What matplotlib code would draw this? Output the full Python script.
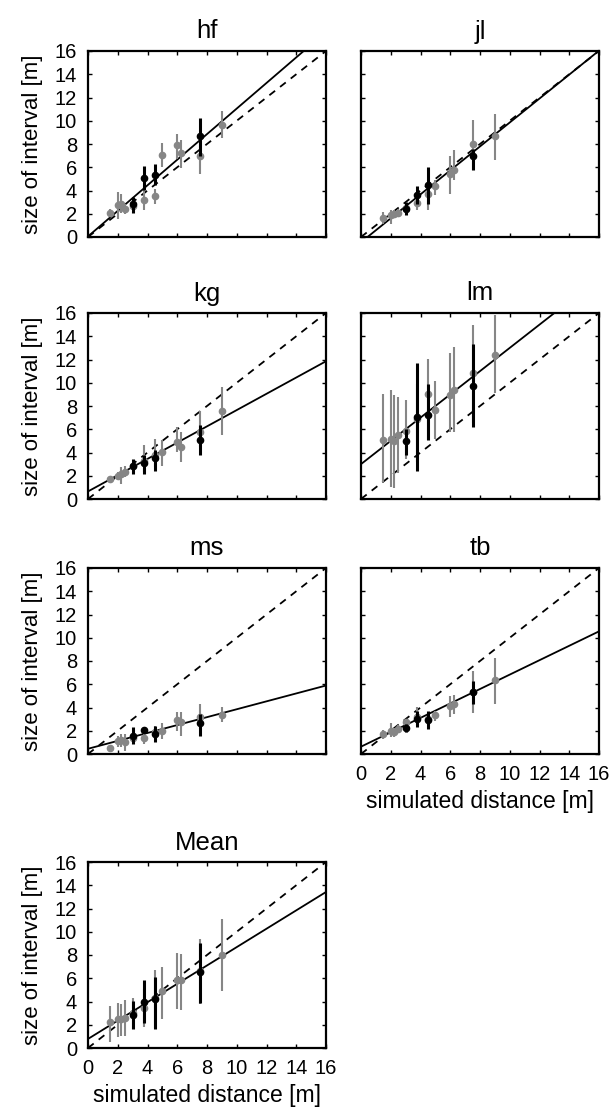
import matplotlib
matplotlib.use("Agg")
import matplotlib.pyplot as plt
import numpy as np

plt.rcParams["font.family"] = ["Liberation Sans", "DejaVu Sans"]

# distances for the two groups of points
GRAY_X = [1.5, 2.0, 2.25, 2.5, 3.0, 3.75, 4.5, 5.0, 6.0, 6.25, 7.5, 9.0]
BLACK_X = [3.0, 3.75, 4.5, 7.5]

PANELS = ["hf", "jl", "kg", "lm", "ms", "tb", "Mean"]

# gray series: value, upper, lower
HF_GRAY = [2.06, 2.72, 2.80, 2.38, 2.70, 3.20, 3.50, 7.08, 7.88, 7.22, 6.96, 9.66]
HF_GRAY_HI = [2.44, 3.87, 3.67, 2.80, 3.10, 4.30, 4.16, 8.08, 8.88, 8.37, 8.65, 10.83]
HF_GRAY_LO = [1.72, 1.58, 2.10, 2.00, 2.30, 2.35, 2.87, 6.02, 6.73, 5.96, 5.39, 8.54]
HF_BLACK = [2.80, 5.07, 5.36, 8.65]
HF_BLACK_HI = [3.44, 6.07, 6.25, 10.23]
HF_BLACK_LO = [2.06, 4.01, 4.44, 7.00]

JL_GRAY = [1.63, 1.92, 2.00, 2.06, 2.50, 2.95, 3.72, 4.36, 5.39, 5.73, 8.02, 8.65]
JL_GRAY_HI = [2.15, 2.29, 2.30, 2.40, 2.90, 3.58, 4.58, 4.93, 7.00, 7.51, 10.09, 10.60]
JL_GRAY_LO = [1.15, 1.15, 1.60, 1.70, 2.10, 2.29, 2.29, 3.58, 3.72, 4.87, 5.73, 6.59]
JL_BLACK = [2.43, 3.64, 4.44, 6.93]
JL_BLACK_HI = [3.01, 4.36, 6.02, 7.59]
JL_BLACK_LO = [1.86, 2.87, 2.87, 5.73]

KG_GRAY = [1.73, 1.96, 2.13, 2.36, 2.80, 3.31, 3.75, 4.03, 4.90, 4.47, 5.76, 7.60]
KG_GRAY_HI = [2.02, 2.30, 2.74, 2.80, 3.20, 4.61, 5.19, 5.04, 6.20, 5.76, 7.55, 9.65]
KG_GRAY_LO = [1.38, 1.60, 1.30, 1.90, 2.40, 2.31, 2.74, 2.88, 4.03, 3.17, 4.50, 5.50]
KG_BLACK = [2.80, 3.08, 3.52, 5.10]
KG_BLACK_HI = [3.46, 3.75, 4.18, 6.34]
KG_BLACK_LO = [2.17, 2.16, 2.45, 3.75]

LM_GRAY = [5.10, 5.19, 4.96, 5.48, 5.82, 6.90, 9.02, 7.69, 8.93, 9.37, 10.80, 12.39]
LM_GRAY_HI = [9.00, 9.34, 8.93, 8.76, 8.50, 9.90, 12.05, 10.17, 12.54, 13.08, 15.00, 15.85]
LM_GRAY_LO = [1.44, 1.00, 0.95, 2.23, 3.46, 3.20, 5.10, 5.19, 5.76, 5.76, 6.50, 9.08]
LM_BLACK = [4.96, 7.06, 7.20, 9.74]
LM_BLACK_HI = [6.05, 11.67, 9.85, 13.31]
LM_BLACK_LO = [3.75, 2.45, 5.04, 6.20]

MS_GRAY = [0.52, 1.09, 1.20, 1.00, 1.40, 1.35, 1.90, 2.00, 2.93, 2.73, 3.15, 3.36]
MS_GRAY_HI = [0.70, 1.58, 1.72, 1.72, 1.80, 1.87, 2.40, 2.70, 3.65, 3.59, 4.31, 4.02]
MS_GRAY_LO = [0.35, 0.57, 0.57, 0.29, 1.00, 0.90, 1.30, 1.29, 2.01, 1.58, 2.16, 2.73]
MS_BLACK = [1.52, 2.07, 1.72, 2.67]
MS_BLACK_HI = [2.30, 2.30, 2.44, 3.45]
MS_BLACK_LO = [0.86, 1.84, 1.01, 1.58]

TB_GRAY = [1.72, 2.00, 1.86, 2.15, 2.72, 3.15, 3.00, 3.38, 4.15, 4.30, 5.30, 6.36]
TB_GRAY_HI = [2.09, 2.63, 2.20, 2.50, 3.00, 4.01, 3.50, 3.67, 5.01, 5.10, 7.16, 8.25]
TB_GRAY_LO = [1.29, 1.49, 1.50, 1.80, 2.40, 2.50, 2.50, 2.87, 3.15, 3.44, 3.50, 4.30]
TB_BLACK = [2.23, 3.00, 2.92, 5.30]
TB_BLACK_HI = [2.58, 3.72, 3.67, 6.30]
TB_BLACK_LO = [1.86, 2.29, 2.15, 4.30]

MEAN_GRAY = [2.21, 2.50, 2.50, 2.59, 3.00, 3.45, 4.30, 4.91, 5.83, 5.89, 6.60, 7.99]
MEAN_GRAY_HI = [3.65, 3.88, 3.82, 4.11, 4.30, 5.06, 6.70, 6.98, 8.19, 8.10, 9.34, 11.06]
MEAN_GRAY_LO = [0.49, 0.95, 1.01, 1.01, 1.60, 1.81, 1.70, 2.50, 3.39, 3.25, 3.80, 4.88]
MEAN_BLACK = [2.82, 3.99, 4.25, 6.52]
MEAN_BLACK_HI = [4.02, 5.83, 6.12, 9.05]
MEAN_BLACK_LO = [1.64, 2.16, 1.64, 3.88]

# fitted line: slope, intercept
FIT_SLOPE = [1.10, 1.03, 0.70, 1.00, 0.34, 0.62, 0.79]
FIT_INTERCEPT = [0.05, -0.45, 0.65, 3.00, 0.45, 0.63, 0.78]

TICKS = list(range(0, 17, 2))

GRAY = [
    (HF_GRAY, HF_GRAY_HI, HF_GRAY_LO),
    (JL_GRAY, JL_GRAY_HI, JL_GRAY_LO),
    (KG_GRAY, KG_GRAY_HI, KG_GRAY_LO),
    (LM_GRAY, LM_GRAY_HI, LM_GRAY_LO),
    (MS_GRAY, MS_GRAY_HI, MS_GRAY_LO),
    (TB_GRAY, TB_GRAY_HI, TB_GRAY_LO),
    (MEAN_GRAY, MEAN_GRAY_HI, MEAN_GRAY_LO),
]
BLACK = [
    (HF_BLACK, HF_BLACK_HI, HF_BLACK_LO),
    (JL_BLACK, JL_BLACK_HI, JL_BLACK_LO),
    (KG_BLACK, KG_BLACK_HI, KG_BLACK_LO),
    (LM_BLACK, LM_BLACK_HI, LM_BLACK_LO),
    (MS_BLACK, MS_BLACK_HI, MS_BLACK_LO),
    (TB_BLACK, TB_BLACK_HI, TB_BLACK_LO),
    (MEAN_BLACK, MEAN_BLACK_HI, MEAN_BLACK_LO),
]

W, H = 610, 1110
fig = plt.figure(figsize=(W / 100, H / 100), dpi=100)

# axes boxes in pixels: left, top, width, height
col_left = [88, 361]
row_top = [51, 313, 568, 862]
ax_w, ax_h = 238, 186

def errs(y, hi, lo):
    y = np.asarray(y)
    return y, np.vstack([y - np.asarray(lo), np.asarray(hi) - y])

for i, name in enumerate(PANELS):
    r, c = divmod(i, 2)
    left, top = col_left[c], row_top[r]
    ax = fig.add_axes([left / W, 1 - (top + ax_h) / H, ax_w / W, ax_h / H])

    xs = np.array([0, 16])
    ax.plot(xs, xs, ls=(0, (4, 3.5)), color="black", lw=1.3, zorder=2)
    ax.plot(xs, FIT_SLOPE[i] * xs + FIT_INTERCEPT[i], color="black", lw=1.3, zorder=2)

    y, e = errs(*GRAY[i])
    ax.errorbar(GRAY_X, y, yerr=e, fmt="o", color="#868686", ms=4.5, elinewidth=1.5,
                capsize=0, zorder=3)
    y, e = errs(*BLACK[i])
    ax.errorbar(BLACK_X, y, yerr=e, fmt="o", color="black", ms=4.5, elinewidth=2.2,
                capsize=0, zorder=4)

    ax.set_xlim(0, 16)
    ax.set_ylim(0, 16)
    ax.set_xticks(TICKS)
    ax.set_yticks(TICKS)
    ax.tick_params(direction="in", length=3, width=1, top=True, right=True,
                   labelsize=14.5, pad=8)
    for s in ax.spines.values():
        s.set_linewidth(1.6)
    ax.set_title(name, fontsize=18.5, pad=9)

    if c == 0:
        ax.set_ylabel("size of interval [m]", fontsize=16, labelpad=8)
    else:
        ax.set_yticklabels([])
    if name in ("tb", "Mean"):
        ax.set_xlabel("simulated distance [m]", fontsize=16.5, labelpad=4)
    else:
        ax.set_xticklabels([])

fig.savefig("out.png", dpi=100)
plt.close(fig)
